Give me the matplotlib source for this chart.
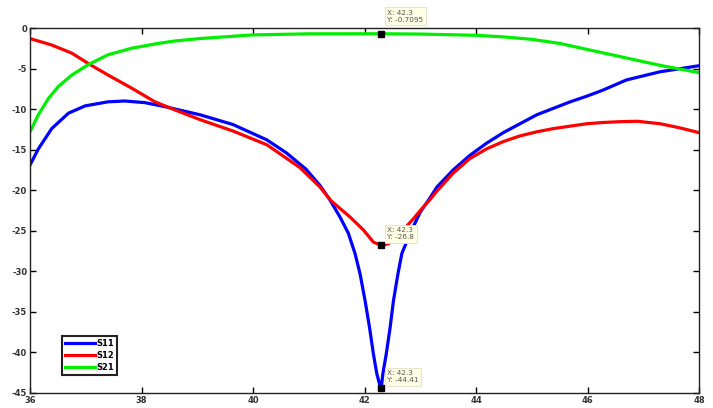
import matplotlib
matplotlib.use("Agg")
import matplotlib.pyplot as plt

plt.rcParams['axes.unicode_minus'] = False
plt.rcParams['font.family'] = ['DejaVu Sans']

# S11 (blue)
s11_freq = [36.0, 36.15, 36.39, 36.69, 36.99, 37.4, 37.7, 38.06, 38.42, 39.05,
            39.64, 40.25, 40.6, 40.95, 41.2, 41.38, 41.56, 41.71, 41.83, 41.92,
            42.01, 42.09, 42.16, 42.22, 42.27, 42.3, 42.33, 42.39, 42.46, 42.52,
            42.6, 42.67, 42.82, 43.0, 43.17, 43.3, 43.59, 43.89, 44.19, 44.49,
            44.79, 45.09, 45.39, 45.69, 45.99, 46.28, 46.7, 47.3, 48.0]
s11_db = [-16.9, -14.9, -12.4, -10.5, -9.6, -9.1, -9.0, -9.2, -9.7, -10.7,
          -11.9, -13.8, -15.4, -17.4, -19.4, -21.2, -23.3, -25.3, -27.8, -30.3,
          -33.6, -36.9, -40.2, -42.6, -43.9, -44.41, -42.6, -40.2, -36.9, -33.6,
          -30.3, -27.8, -25.3, -22.7, -21.0, -19.6, -17.5, -15.7, -14.2, -12.9,
          -11.8, -10.7, -9.9, -9.1, -8.4, -7.65, -6.4, -5.4, -4.65]

# S12 (red)
s12_freq = [36.0, 36.39, 36.75, 37.05, 37.4, 37.82, 38.24, 38.6, 39.05, 39.64,
            40.25, 40.84, 41.2, 41.4, 41.74, 41.98, 42.16, 42.3, 42.43, 42.64,
            42.88, 43.0, 43.17, 43.3, 43.59, 43.89, 44.19, 44.49, 44.79, 45.09,
            45.39, 45.69, 45.99, 46.28, 46.58, 46.9, 47.3, 47.65, 48.0]
s12_db = [-1.3, -2.1, -3.1, -4.4, -5.8, -7.4, -9.1, -10.1, -11.3, -12.7,
          -14.4, -17.2, -19.6, -21.3, -23.3, -24.9, -26.4, -26.8, -26.6, -25.3,
          -23.5, -22.5, -21.2, -20.1, -17.9, -16.1, -14.9, -14.0, -13.3, -12.8,
          -12.4, -12.1, -11.8, -11.65, -11.55, -11.5, -11.8, -12.3, -12.9]

# S21 (green)
s21_freq = [36.0, 36.15, 36.33, 36.51, 36.75, 37.05, 37.4, 37.82, 38.3, 38.6,
            39.05, 40.0, 41.0, 42.3, 43.0, 44.0, 44.5, 45.0, 45.5, 46.1,
            46.7, 47.3, 48.0]
s21_db = [-12.8, -10.7, -8.7, -7.2, -5.8, -4.5, -3.3, -2.5, -1.9, -1.6,
          -1.3, -0.85, -0.72, -0.7095, -0.75, -0.9, -1.1, -1.4, -1.9, -2.8,
          -3.7, -4.6, -5.5]

x_ticks = [36, 38, 40, 42, 44, 46, 48]
y_ticks = [0, -5, -10, -15, -20, -25, -30, -35, -40, -45]

# data tips: (x, y, label text, text offset)
tips = [(42.3, -0.7095, 'X: 42.3\nY: -0.7095', (6, 11)),
        (42.3, -26.8, 'X: 42.3\nY: -26.8', (6, 5)),
        (42.3, -44.41, 'X: 42.3\nY: -44.41', (6, 5))]

fig = plt.figure(figsize=(7.13, 4.08), dpi=100)
ax = fig.add_axes([30 / 713, 1 - 393 / 408, 669 / 713, 365 / 408])

ax.plot(s11_freq, s11_db, color='#0000ff', lw=2.3, label='S11', solid_joinstyle='round')
ax.plot(s12_freq, s12_db, color='#ff0000', lw=2.3, label='S12', solid_joinstyle='round')
ax.plot(s21_freq, s21_db, color='#00ee00', lw=2.3, label='S21', solid_joinstyle='round')

ax.set_xlim(36, 48)
ax.set_ylim(-45, 0)
ax.set_xticks(x_ticks)
ax.set_yticks(y_ticks)
ax.set_xticklabels([str(t) for t in x_ticks])
ax.set_yticklabels([str(t) for t in y_ticks])
ax.tick_params(direction='in', length=4, width=1, top=True, right=True,
               labelsize=6, colors='black', labelcolor='#333333', pad=2)
for lab in ax.get_xticklabels() + ax.get_yticklabels():
    lab.set_fontweight('bold')
for sp in ax.spines.values():
    sp.set_linewidth(1.0)
    sp.set_color('#222222')

for x, y, txt, off in tips:
    ax.plot([x], [y], marker='s', color='black', ms=4, zorder=5, clip_on=False)
    ax.annotate(txt, xy=(x, y), xytext=off, textcoords='offset pixels',
                ha='left', va='bottom', fontsize=5.2, color='#555555',
                annotation_clip=False, zorder=6,
                bbox=dict(boxstyle='square,pad=0.35', fc='#ffffe6', ec='#e0e0c8', lw=0.6))

leg = ax.legend(loc='lower left', bbox_to_anchor=(0.048, 0.049), borderaxespad=0,
                fancybox=False, framealpha=1, edgecolor='#222222',
                prop={'size': 6, 'weight': 'bold'}, handlelength=3.6,
                handletextpad=0.1, labelspacing=0.35, borderpad=0.4)
leg.get_frame().set_linewidth(1.5)

fig.savefig('out.png', dpi=100)
